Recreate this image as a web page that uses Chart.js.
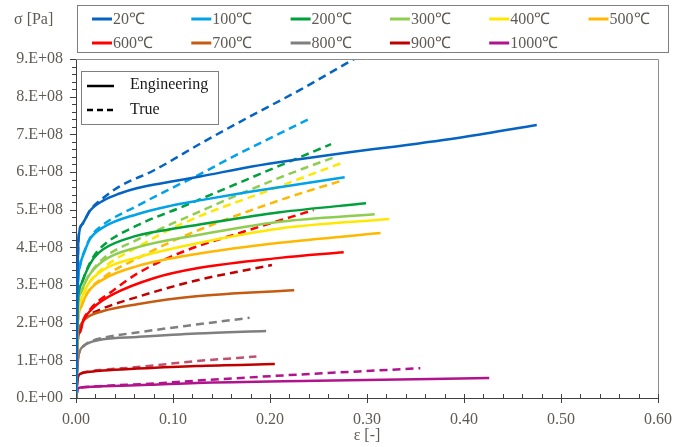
<!DOCTYPE html>
<html>
<head>
<meta charset="utf-8">
<script src="https://cdn.jsdelivr.net/npm/chart.js@4/dist/chart.umd.min.js"></script>
<style>
  html, body { margin: 0; padding: 0; background: #fff; }
  #wrap { width: 675px; height: 447px; position: relative; }
</style>
</head>
<body>
<div id="wrap"><canvas id="myChart" width="675" height="447"></canvas></div>
<script>
// temperatures (legend) and tick labels
const temps = ['20℃', '100℃', '200℃', '300℃', '400℃', '500℃', '600℃', '700℃', '800℃', '900℃', '1000℃'];
const xTicks = [0, 0.1, 0.2, 0.3, 0.4, 0.5, 0.6];
const yTicks = [0, 1e8, 2e8, 3e8, 4e8, 5e8, 6e8, 7e8, 8e8, 9e8];

// engineering curves [strain, stress Pa]
const eng20 = [[0, 0], [0.0025, 4.2e8], [0.006, 4.6e8], [0.0144, 4.97e8], [0.028, 5.24e8], [0.045, 5.43e8], [0.0625, 5.57e8], [0.097, 5.74e8], [0.128, 5.88e8], [0.18, 6.14e8], [0.23, 6.34e8], [0.28, 6.52e8], [0.33, 6.68e8], [0.4, 6.93e8], [0.475, 7.25e8]];
const eng100 = [[0, 0], [0.002, 3.0e8], [0.004, 3.5e8], [0.009, 3.9e8], [0.0144, 4.22e8], [0.028, 4.53e8], [0.063, 4.88e8], [0.097, 5.1e8], [0.126, 5.24e8], [0.176, 5.46e8], [0.277, 5.86e8]];
const eng200 = [[0, 0], [0.002, 2.6e8], [0.005, 3.0e8], [0.011, 3.38e8], [0.018, 3.7e8], [0.028, 3.95e8], [0.063, 4.31e8], [0.097, 4.48e8], [0.126, 4.6e8], [0.21, 4.93e8], [0.299, 5.17e8]];
const eng300 = [[0, 0], [0.002, 2.4e8], [0.005, 2.8e8], [0.012, 3.2e8], [0.028, 3.64e8], [0.063, 4.0e8], [0.126, 4.33e8], [0.21, 4.68e8], [0.308, 4.88e8]];
const eng400 = [[0, 0], [0.002, 2.2e8], [0.005, 2.6e8], [0.012, 3.0e8], [0.028, 3.4e8], [0.063, 3.73e8], [0.12, 4.08e8], [0.21, 4.5e8], [0.323, 4.75e8]];
const eng500 = [[0, 0], [0.002, 2.0e8], [0.005, 2.4e8], [0.012, 2.8e8], [0.028, 3.15e8], [0.063, 3.5e8], [0.126, 3.83e8], [0.21, 4.12e8], [0.314, 4.38e8]];
const eng600 = [[0, 0], [0.002, 1.6e8], [0.004, 1.75e8], [0.0075, 2.05e8], [0.018, 2.4e8], [0.038, 2.75e8], [0.08, 3.18e8], [0.126, 3.45e8], [0.21, 3.72e8], [0.276, 3.87e8]];
const eng700 = [[0, 0], [0.002, 1.6e8], [0.005, 1.95e8], [0.011, 2.13e8], [0.028, 2.31e8], [0.063, 2.49e8], [0.124, 2.7e8], [0.225, 2.86e8]];
const eng800 = [[0, 0], [0.002, 1.0e8], [0.004, 1.25e8], [0.008, 1.38e8], [0.014, 1.47e8], [0.028, 1.56e8], [0.063, 1.62e8], [0.124, 1.71e8], [0.196, 1.78e8]];
const eng900 = [[0, 0], [0.002, 0.55e8], [0.005, 0.65e8], [0.012, 0.69e8], [0.028, 0.73e8], [0.063, 0.78e8], [0.124, 0.85e8], [0.205, 0.9e8]];
const eng1000 = [[0, 0], [0.002, 0.25e8], [0.005, 0.28e8], [0.028, 0.31e8], [0.076, 0.35e8], [0.124, 0.4e8], [0.248, 0.46e8], [0.426, 0.53e8]];

// true curves
const true20 = [[0, 0], [0.0025, 4.2e8], [0.006, 4.6e8], [0.015, 5.0e8], [0.03, 5.35e8], [0.045, 5.62e8], [0.08, 6.04e8], [0.128, 6.75e8], [0.179, 7.47e8], [0.231, 8.18e8], [0.284, 8.96e8], [0.32, 9.5e8]];
const true100 = [[0, 0], [0.002, 3.0e8], [0.004, 3.5e8], [0.009, 3.92e8], [0.015, 4.27e8], [0.028, 4.6e8], [0.063, 5.1e8], [0.097, 5.55e8], [0.126, 5.92e8], [0.169, 6.5e8], [0.242, 7.43e8]];
const true200 = [[0, 0], [0.002, 2.6e8], [0.005, 3.0e8], [0.011, 3.4e8], [0.018, 3.75e8], [0.028, 4.05e8], [0.063, 4.58e8], [0.107, 5.05e8], [0.176, 5.8e8], [0.263, 6.74e8]];
const true300 = [[0, 0], [0.002, 2.4e8], [0.005, 2.8e8], [0.012, 3.2e8], [0.028, 3.7e8], [0.063, 4.2e8], [0.107, 4.72e8], [0.21, 5.85e8], [0.269, 6.42e8]];
const true400 = [[0, 0], [0.002, 2.2e8], [0.005, 2.6e8], [0.012, 3.0e8], [0.028, 3.45e8], [0.063, 4.0e8], [0.107, 4.6e8], [0.21, 5.62e8], [0.276, 6.26e8]];
const true500 = [[0, 0], [0.002, 2.0e8], [0.005, 2.4e8], [0.012, 2.8e8], [0.028, 3.2e8], [0.063, 3.7e8], [0.107, 4.25e8], [0.21, 5.25e8], [0.275, 5.78e8]];
const true600 = [[0, 0], [0.002, 1.6e8], [0.004, 1.75e8], [0.0075, 2.07e8], [0.018, 2.45e8], [0.038, 2.85e8], [0.063, 3.3e8], [0.107, 3.85e8], [0.176, 4.44e8], [0.245, 4.99e8]];
const true700 = [[0, 0], [0.002, 1.6e8], [0.005, 1.95e8], [0.011, 2.15e8], [0.028, 2.38e8], [0.063, 2.68e8], [0.124, 3.12e8], [0.202, 3.53e8]];
const true800 = [[0, 0], [0.002, 1.0e8], [0.004, 1.25e8], [0.008, 1.39e8], [0.014, 1.49e8], [0.028, 1.6e8], [0.063, 1.74e8], [0.124, 1.95e8], [0.179, 2.13e8]];
const true900 = [[0, 0], [0.002, 0.55e8], [0.005, 0.65e8], [0.012, 0.7e8], [0.028, 0.75e8], [0.063, 0.82e8], [0.124, 0.98e8], [0.186, 1.1e8]];
const true1000 = [[0, 0], [0.002, 0.25e8], [0.005, 0.28e8], [0.028, 0.32e8], [0.076, 0.38e8], [0.124, 0.46e8], [0.214, 0.6e8], [0.355, 0.79e8]];

const engCurves = [eng20, eng100, eng200, eng300, eng400, eng500, eng600, eng700, eng800, eng900, eng1000];
const trueCurves = [true20, true100, true200, true300, true400, true500, true600, true700, true800, true900, true1000];

// colours
const colors = ['#0563c1', '#00a2e8', '#00a03c', '#8fcd4f', '#ffe800', '#ffb800', '#ff0000', '#c55a11', '#7f7f7f', '#c00000', '#b0148c'];
const trueColors = ['#0563c1', '#00a2e8', '#00a03c', '#8fcd4f', '#ffe800', '#ffb800', '#ff0000', '#c00000', '#7f7f7f', '#c0506e', '#b0148c'];

const FONT = '"Liberation Serif", "Times New Roman", serif';
const TICKCOL = '#5f5a55';

function toPts(arr) {
  return arr.map(p => ({ x: p[0], y: p[1] }));
}

let datasets = [];
for (let i = 0; i < temps.length; i++) {
  datasets.push({
    label: temps[i] + ' true',
    data: toPts(trueCurves[i]),
    borderColor: trueColors[i],
    borderWidth: 2.5,
    borderDash: [8, 5],
    pointRadius: 0,
    showLine: true,
    cubicInterpolationMode: 'monotone',
    order: 2
  });
}
for (let i = 0; i < temps.length; i++) {
  datasets.push({
    label: temps[i],
    data: toPts(engCurves[i]),
    borderColor: colors[i],
    borderWidth: 2.5,
    pointRadius: 0,
    showLine: true,
    cubicInterpolationMode: 'monotone',
    order: 1
  });
}

// minor ticks, frame, legends, axis titles
const decorations = {
  id: 'decorations',
  afterDraw(chart) {
    const ctx = chart.ctx;
    const a = chart.chartArea;
    const xs = chart.scales.x, ys = chart.scales.y;
    ctx.save();
    // top / right frame
    ctx.strokeStyle = '#8c8c8c';
    ctx.lineWidth = 1;
    ctx.beginPath();
    ctx.moveTo(a.left, a.top + 0.5);
    ctx.lineTo(a.right + 0.5, a.top + 0.5);
    ctx.lineTo(a.right + 0.5, a.bottom);
    ctx.stroke();
    // tick marks
    ctx.strokeStyle = '#404040';
    ctx.beginPath();
    for (let k = 0; k <= 30; k++) {
      const px = Math.round(xs.getPixelForValue(k * 0.02)) + 0.5;
      const major = k % 5 === 0;
      ctx.moveTo(px, a.bottom - 4);
      ctx.lineTo(px, a.bottom + (major ? 5 : 0));
    }
    for (let k = 0; k <= 45; k++) {
      const py = Math.round(ys.getPixelForValue(k * 0.2e8)) + 0.5;
      const major = k % 5 === 0;
      ctx.moveTo(a.left - (major ? 6 : 4), py);
      ctx.lineTo(a.left, py);
    }
    ctx.stroke();

    // axis titles
    ctx.fillStyle = TICKCOL;
    ctx.font = '16px ' + FONT;
    ctx.textBaseline = 'middle';
    ctx.textAlign = 'left';
    ctx.fillText('σ [Pa]', 14, 20);
    ctx.textAlign = 'center';
    ctx.fillText('ε [-]', (a.left + a.right) / 2, 436);

    // temperature legend
    ctx.strokeStyle = '#7f7f7f';
    ctx.lineWidth = 1;
    ctx.strokeRect(77.5, 5.5, 591, 47);
    ctx.textAlign = 'left';
    for (let i = 0; i < temps.length; i++) {
      const col = i % 6, row = Math.floor(i / 6);
      const x0 = 92 + col * 99.3;
      const y0 = 19 + row * 24;
      ctx.strokeStyle = colors[i];
      ctx.lineWidth = 3;
      ctx.beginPath();
      ctx.moveTo(x0, y0);
      ctx.lineTo(x0 + 20, y0);
      ctx.stroke();
      ctx.fillStyle = TICKCOL;
      ctx.fillText(temps[i], x0 + 21, y0 + 1);
    }

    // engineering / true legend
    ctx.strokeStyle = '#7f7f7f';
    ctx.lineWidth = 1;
    ctx.fillStyle = '#fff';
    ctx.fillRect(81, 71, 137, 53);
    ctx.strokeRect(81.5, 71.5, 137, 53);
    ctx.strokeStyle = '#000';
    ctx.lineWidth = 2.5;
    ctx.beginPath();
    ctx.moveTo(87, 86);
    ctx.lineTo(114, 86);
    ctx.stroke();
    ctx.setLineDash([6, 4]);
    ctx.beginPath();
    ctx.moveTo(87, 110);
    ctx.lineTo(114, 110);
    ctx.stroke();
    ctx.setLineDash([]);
    ctx.fillStyle = '#1a1a1a';
    ctx.fillText('Engineering', 130, 85);
    ctx.fillText('True', 130, 110);
    ctx.restore();
  }
};

const config = {
  type: 'scatter',
  data: { datasets: datasets },
  options: {
    responsive: false,
    animation: false,
    layout: { padding: { left: 0, right: 17, top: 59, bottom: 0 } },
    plugins: { legend: { display: false }, tooltip: { enabled: false } },
    scales: {
      x: {
        type: 'linear',
        min: 0,
        max: 0.6,
        afterBuildTicks: s => { s.ticks = xTicks.map(v => ({ value: v })); },
        afterFit: s => { s.height = 49; s.paddingLeft = 0; s.paddingRight = 0; },
        grid: { drawOnChartArea: false, drawTicks: false },
        border: { display: true, color: '#404040', width: 1 },
        ticks: {
          padding: 12,
          color: TICKCOL,
          font: { family: FONT, size: 16 },
          callback: v => v.toFixed(2)
        }
      },
      y: {
        type: 'linear',
        min: 0,
        max: 9e8,
        afterBuildTicks: s => { s.ticks = yTicks.map(v => ({ value: v })); },
        afterFit: s => { s.width = 76; s.paddingTop = 0; s.paddingBottom = 0; },
        grid: { drawOnChartArea: false, drawTicks: false },
        border: { display: true, color: '#404040', width: 1 },
        ticks: {
          padding: 13,
          color: TICKCOL,
          font: { family: FONT, size: 16 },
          callback: v => v === 0 ? '0.E+00' : Math.round(v / 1e8) + '.E+08'
        }
      }
    }
  },
  plugins: [decorations]
};

const myChart = new Chart(document.getElementById('myChart'), config);
</script>
</body>
</html>
